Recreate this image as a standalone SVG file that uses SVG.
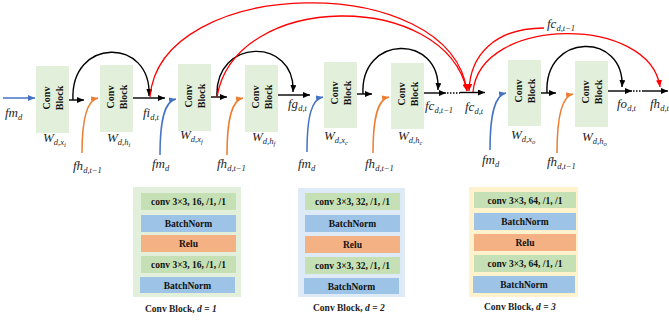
<svg xmlns="http://www.w3.org/2000/svg" width="669" height="322" viewBox="0 0 669 322">
<style>
.blk{fill:#e2efda}
.bt{font-family:"Liberation Serif","Times New Roman",serif;font-weight:bold;font-size:10px;fill:#111}
.lab{font-family:"Liberation Serif","Times New Roman",serif;font-style:italic;font-size:13px;fill:#262626}
.s{font-size:8.5px}
.ss{font-size:6.5px}
.k{fill:none;stroke:#000;stroke-width:1.4}
.kd{fill:none;stroke:#000;stroke-width:1.4;stroke-dasharray:1.5 1.5}
.r{fill:none;stroke:#ff0000;stroke-width:1.3}
.b{fill:none;stroke:#4472c4;stroke-width:1.5}
.o{fill:none;stroke:#ed7d31;stroke-width:1.5}
.rt{font-family:"Liberation Serif","Times New Roman",serif;font-weight:bold;font-size:9.5px;fill:#111;text-anchor:middle}
.cap{font-family:"Liberation Serif","Times New Roman",serif;font-weight:bold;font-size:9.5px;fill:#222}
.g{fill:#c5e0b4}.bl{fill:#9dc3e6}.or{fill:#f4b183}
</style>
<defs>
<marker id="ak" markerUnits="userSpaceOnUse" markerWidth="8" markerHeight="6" refX="7" refY="3" orient="auto"><path d="M0,0 L7,3 L0,6 z" fill="#000"/></marker>
<marker id="ar" markerUnits="userSpaceOnUse" markerWidth="8" markerHeight="6" refX="7" refY="3" orient="auto"><path d="M0,0 L7,3 L0,6 z" fill="#ff0000"/></marker>
<marker id="ab" markerUnits="userSpaceOnUse" markerWidth="8" markerHeight="6" refX="7" refY="3" orient="auto"><path d="M0,0 L7,3 L0,6 z" fill="#4472c4"/></marker>
<marker id="ao" markerUnits="userSpaceOnUse" markerWidth="8" markerHeight="6" refX="7" refY="3" orient="auto"><path d="M0,0 L7,3 L0,6 z" fill="#ed7d31"/></marker>
</defs>

<g id="node-b1"><rect class="blk" x="36" y="66" width="33" height="67"/><text class="bt" transform="translate(52.5,98) rotate(-90)" text-anchor="middle"><tspan x="0" y="-3">Conv</tspan><tspan x="0" y="10">Block</tspan></text></g>
<g id="node-b2"><rect class="blk" x="100" y="65" width="33" height="67"/><text class="bt" transform="translate(116.5,97) rotate(-90)" text-anchor="middle"><tspan x="0" y="-3">Conv</tspan><tspan x="0" y="10">Block</tspan></text></g>
<g id="node-b3"><rect class="blk" x="178" y="64" width="33" height="67"/><text class="bt" transform="translate(194.5,96) rotate(-90)" text-anchor="middle"><tspan x="0" y="-3">Conv</tspan><tspan x="0" y="10">Block</tspan></text></g>
<g id="node-b4"><rect class="blk" x="245" y="65" width="33" height="67"/><text class="bt" transform="translate(261.5,97) rotate(-90)" text-anchor="middle"><tspan x="0" y="-3">Conv</tspan><tspan x="0" y="10">Block</tspan></text></g>
<g id="node-b5"><rect class="blk" x="324" y="62" width="33" height="66"/><text class="bt" transform="translate(340.5,93) rotate(-90)" text-anchor="middle"><tspan x="0" y="-3">Conv</tspan><tspan x="0" y="10">Block</tspan></text></g>
<g id="node-b6"><rect class="blk" x="391" y="63" width="33" height="66"/><text class="bt" transform="translate(407.5,94) rotate(-90)" text-anchor="middle"><tspan x="0" y="-3">Conv</tspan><tspan x="0" y="10">Block</tspan></text></g>
<g id="node-b7"><rect class="blk" x="508" y="60" width="33" height="66"/><text class="bt" transform="translate(524.5,91) rotate(-90)" text-anchor="middle"><tspan x="0" y="-3">Conv</tspan><tspan x="0" y="10">Block</tspan></text></g>
<g id="node-b8"><rect class="blk" x="575" y="61" width="33" height="66"/><text class="bt" transform="translate(591.5,92) rotate(-90)" text-anchor="middle"><tspan x="0" y="-3">Conv</tspan><tspan x="0" y="10">Block</tspan></text></g>

<g id="connectors">
<line class="b" x1="3" y1="98" x2="35" y2="98" marker-end="url(#ab)"/>
<line class="k" x1="69" y1="100" x2="84" y2="100" marker-end="url(#ak)"/>
<path class="k" d="M73,100 C70,37 152,37 149,96" marker-end="url(#ak)"/>
<line class="k" x1="133" y1="98" x2="165" y2="98" marker-end="url(#ak)"/>
<line class="k" x1="211" y1="97" x2="227" y2="97" marker-end="url(#ak)"/>
<path class="k" d="M217,97 C214,37 296,37 293,92" marker-end="url(#ak)"/>
<line class="k" x1="278" y1="95" x2="310" y2="95" marker-end="url(#ak)"/>
<line class="k" x1="357" y1="94" x2="372" y2="94" marker-end="url(#ak)"/>
<path class="k" d="M363,94 C360,34 441,34 438,90" marker-end="url(#ak)"/>
<line class="k" x1="424" y1="93" x2="446" y2="93" marker-end="url(#ak)"/>
<line class="kd" x1="447" y1="93" x2="460" y2="93"/>
<line class="k" x1="460" y1="92.5" x2="485" y2="92.5" marker-end="url(#ak)"/>
<line class="k" x1="541" y1="93" x2="556" y2="93" marker-end="url(#ak)"/>
<path class="k" d="M547,93 C544,32 625,32 622,87" marker-end="url(#ak)"/>
<line class="k" x1="608" y1="91" x2="632" y2="91" marker-end="url(#ak)"/>
<line class="kd" x1="633" y1="91" x2="643" y2="91"/>
<line class="k" x1="643" y1="91" x2="668" y2="91" marker-end="url(#ak)"/>
<path class="r" d="M150,97 C160,-25 450,-30 467,91" marker-end="url(#ar)"/>
<path class="r" d="M217,97 C235,-10 445,-10 467,91" marker-end="url(#ar)"/>
<path class="r" d="M544,28 C495,28 470,55 469,91" marker-end="url(#ar)"/>
<path class="r" d="M473,92 C480,15 650,15 660,87" marker-end="url(#ar)"/>
<path class="o" d="M82,153 C82,118 87,100 98,98" marker-end="url(#ao)"/>
<path class="b" d="M160,155 C160,118 165,101 176,99" marker-end="url(#ab)"/>
<path class="o" d="M227,155 C227,118 232,100 243,98" marker-end="url(#ao)"/>
<path class="b" d="M307,152 C307,115 312,99 323,97" marker-end="url(#ab)"/>
<path class="o" d="M373,153 C373,116 378,99 389,97" marker-end="url(#ao)"/>
<path class="b" d="M490,150 C490,113 495,95 506,93" marker-end="url(#ab)"/>
<path class="o" d="M557,153 C557,115 562,96 573,94" marker-end="url(#ao)"/>
</g>

<g id="labels">
<text class="lab" x="5" y="117">fm<tspan class="s" dy="3">d</tspan></text>
<text class="lab" x="43" y="142">W<tspan class="s" dy="3">d</tspan><tspan class="s">,x</tspan><tspan class="ss" dy="2">i</tspan></text>
<text class="lab" x="73" y="170">fh<tspan class="s" dy="3">d,t−1</tspan></text>
<text class="lab" x="107" y="142">W<tspan class="s" dy="3">d,h</tspan><tspan class="ss" dy="2">i</tspan></text>
<text class="lab" x="143" y="117">fi<tspan class="s" dy="3">d,t</tspan></text>
<text class="lab" x="152" y="168">fm<tspan class="s" dy="3">d</tspan></text>
<text class="lab" x="180" y="139">W<tspan class="s" dy="3">d,x</tspan><tspan class="ss" dy="2">f</tspan></text>
<text class="lab" x="217" y="168">fh<tspan class="s" dy="3">d,t−1</tspan></text>
<text class="lab" x="252" y="141">W<tspan class="s" dy="3">d,h</tspan><tspan class="ss" dy="2">f</tspan></text>
<text class="lab" x="288" y="108">fg<tspan class="s" dy="3">d,t</tspan></text>
<text class="lab" x="298" y="168">fm<tspan class="s" dy="3">d</tspan></text>
<text class="lab" x="324" y="140">W<tspan class="s" dy="3">d,x</tspan><tspan class="ss" dy="2">c</tspan></text>
<text class="lab" x="365" y="168">fh<tspan class="s" dy="3">d,t−1</tspan></text>
<text class="lab" x="398" y="140">W<tspan class="s" dy="3">d,h</tspan><tspan class="ss" dy="2">c</tspan></text>
<text class="lab" x="425" y="110">fc<tspan class="s" dy="3">d,t−1</tspan></text>
<text class="lab" x="465" y="111">fc<tspan class="s" dy="3">d,t</tspan></text>
<text class="lab" x="547" y="28">fc<tspan class="s" dy="3">d,t−1</tspan></text>
<text class="lab" x="482" y="164">fm<tspan class="s" dy="3">d</tspan></text>
<text class="lab" x="511" y="139">W<tspan class="s" dy="3">d,x</tspan><tspan class="ss" dy="2">o</tspan></text>
<text class="lab" x="547" y="166">fh<tspan class="s" dy="3">d,t−1</tspan></text>
<text class="lab" x="582" y="141">W<tspan class="s" dy="3">d,h</tspan><tspan class="ss" dy="2">o</tspan></text>
<text class="lab" x="617" y="108">fo<tspan class="s" dy="3">d,t</tspan></text>
<text class="lab" x="650" y="108">fh<tspan class="s" dy="3">d,t</tspan></text>
</g>

<g id="panel-d1">
<rect x="133" y="187" width="108" height="110" fill="#e2efda"/>
<rect class="g" x="141" y="193" width="95" height="17"/><text class="rt" x="188.5" y="205">conv 3×3, 16, /1, /1</text>
<rect class="bl" x="141" y="215" width="95" height="17"/><text class="rt" x="188.5" y="227">BatchNorm</text>
<rect class="or" x="141" y="235" width="95" height="17"/><text class="rt" x="188.5" y="247">Relu</text>
<rect class="g" x="141" y="256" width="95" height="17"/><text class="rt" x="188.5" y="268">conv 3×3, 16, /1, /1</text>
<rect class="bl" x="140" y="277" width="95" height="16"/><text class="rt" x="187.5" y="288.5">BatchNorm</text>
<text class="cap" x="145" y="312">Conv Block, <tspan font-style="italic">d</tspan> = <tspan font-style="italic">1</tspan></text>
</g>
<g id="panel-d2">
<rect x="298" y="188" width="107" height="109" fill="#deebf7"/>
<rect class="g" x="305" y="193" width="95" height="17"/><text class="rt" x="352.5" y="205">conv 3×3, 32, /1, /1</text>
<rect class="bl" x="305" y="215" width="95" height="17"/><text class="rt" x="352.5" y="227">BatchNorm</text>
<rect class="or" x="305" y="236" width="95" height="17"/><text class="rt" x="352.5" y="248">Relu</text>
<rect class="g" x="305" y="257" width="95" height="17"/><text class="rt" x="352.5" y="269">conv 3×3, 32, /1, /1</text>
<rect class="bl" x="304" y="278" width="95" height="16"/><text class="rt" x="351.5" y="289.5">BatchNorm</text>
<text class="cap" x="313" y="311">Conv Block, <tspan font-style="italic">d</tspan> = <tspan font-style="italic">2</tspan></text>
</g>
<g id="panel-d3">
<rect x="469" y="187" width="109" height="110" fill="#fff2cc"/>
<rect class="g" x="474" y="192" width="102" height="16"/><text class="rt" x="525" y="203.5">conv 3×3, 64, /1, /1</text>
<rect class="bl" x="474" y="213" width="102" height="17"/><text class="rt" x="525" y="225">BatchNorm</text>
<rect class="or" x="474" y="234" width="102" height="17"/><text class="rt" x="525" y="246">Relu</text>
<rect class="g" x="474" y="255" width="102" height="17"/><text class="rt" x="525" y="267">conv 3×3, 64, /1, /1</text>
<rect class="bl" x="473" y="276" width="102" height="17"/><text class="rt" x="524" y="288">BatchNorm</text>
<text class="cap" x="484" y="310">Conv Block, <tspan font-style="italic">d</tspan> = <tspan font-style="italic">3</tspan></text>
</g>
</svg>
